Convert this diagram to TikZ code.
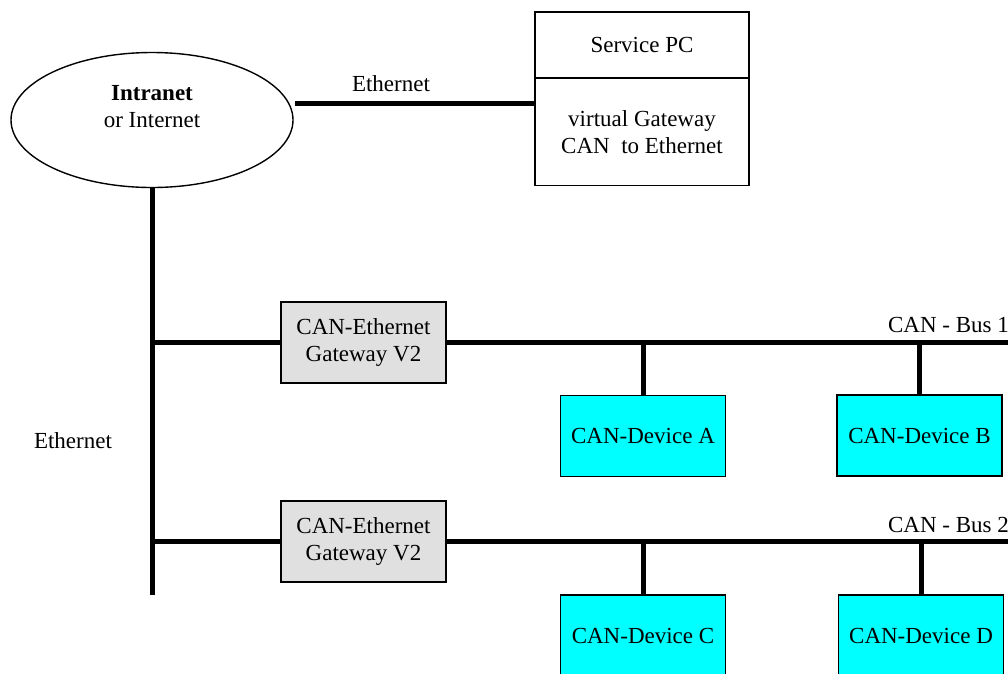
\documentclass[tikz,border=0pt]{standalone}
\usepackage{fontspec}
\setmainfont{Liberation Serif}
\usetikzlibrary{shapes.geometric}
\definecolor{devcyan}{RGB}{0,255,255}
\definecolor{gwgray}{RGB}{224,224,224}
\begin{document}
\begin{tikzpicture}[x=1pt,y=-1pt,
  every node/.style={font=\fontsize{23}{27}\selectfont},
  box/.style={draw, line width=1.8pt, rectangle, inner sep=0pt, align=center},
  gwbox/.style={box, fill=gwgray, minimum width=165pt, minimum height=81pt},
  devbox/.style={box, fill=devcyan, minimum width=165pt, minimum height=81pt},
  wire/.style={line width=5pt},
  lbl/.style={inner sep=0pt}]
\clip (0,0) rectangle (1008,673);
\fill[white] (0,0) rectangle (1008,673);

% Intranet cloud
\node[draw, ellipse, line width=1.4pt, minimum width=282pt, minimum height=135pt] (net) at (152,120) {};
\node[lbl, align=center] (netlabel) at (152,107) {\textbf{Intranet}\\or Internet};

% Service PC
\node[box, minimum width=214pt, minimum height=66pt] (pctop) at (642,45) {Service PC};
\node[box, minimum width=214pt, minimum height=107pt] (pcbot) at (642,132) {virtual Gateway\\CAN\ \ to Ethernet};

% Gateways
\node[gwbox] (gw1) at (363.5,342.5) {CAN-Ethernet\\Gateway V2};
\node[gwbox] (gw2) at (363.5,541.5) {CAN-Ethernet\\Gateway V2};

% Devices
\node[devbox] (devA) at (643,436) {CAN-Device A};
\node[devbox] (devB) at (919.5,435.5) {CAN-Device B};
\node[devbox] (devC) at (643,635.5) {CAN-Device C};
\node[devbox] (devD) at (921,635.5) {CAN-Device D};

% Coordinates
\coordinate (e1) at (295,103);
\coordinate (vend) at (152,595);
\coordinate (bus1end) at (1010,342.5);
\coordinate (bus2end) at (1010,541.5);

% Connectors
\draw[wire] (e1) -- (e1 -| pcbot.west);
\draw[wire] (net.south) -- (vend);
\draw[wire] (gw1.west -| vend) -- (gw1.west);
\draw[wire] (gw2.west -| vend) -- (gw2.west);
\draw[wire] (gw1.east) -- (bus1end);
\draw[wire] (gw2.east) -- (bus2end);
\draw[wire] (devA.north) -- (devA.north |- gw1.east);
\draw[wire] (devB.north) -- (devB.north |- gw1.east);
\draw[wire] (devC.north) -- (devC.north |- gw2.east);
\draw[wire] (devD.north) -- (devD.north |- gw2.east);

% Labels
\node[lbl] (lethtop) at (391,84) {Ethernet};
\node[lbl] (lethleft) at (73,441) {Ethernet};
\node[lbl, anchor=east] (lbus1) at (1009,325) {CAN - Bus 1};
\node[lbl, anchor=east] (lbus2) at (1009,525) {CAN - Bus 2};
\end{tikzpicture}
\end{document}
